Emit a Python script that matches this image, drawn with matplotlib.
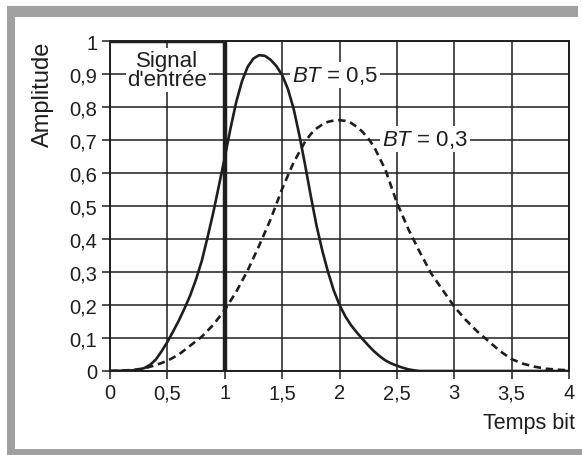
import matplotlib
import matplotlib.pyplot as plt
from matplotlib.patches import Rectangle

matplotlib.use("Agg")

plt.rcParams["font.family"] = ["Liberation Sans", "DejaVu Sans"]
plt.rcParams["mathtext.fontset"] = "custom"
plt.rcParams["mathtext.it"] = "Liberation Sans:italic"
plt.rcParams["mathtext.rm"] = "Liberation Sans"

# ---------------------------------------------------------------------------
# Data
# ---------------------------------------------------------------------------

# input rectangle pulse (one bit)
signal_x = [0, 1, 1]
signal_y = [1, 1, 0]

# filtered pulse, BT = 0.5 (solid)
bt05_x = [0.0, 0.2, 0.25, 0.3, 0.35, 0.4, 0.45, 0.5, 0.55, 0.6, 0.65, 0.7,
          0.75, 0.8, 0.85, 0.9, 0.95, 1.0, 1.05, 1.1, 1.15, 1.2, 1.25, 1.3,
          1.35, 1.4, 1.45, 1.5, 1.55, 1.6, 1.65, 1.7, 1.75, 1.8, 1.85, 1.9,
          1.95, 2.0, 2.05, 2.1, 2.15, 2.2, 2.25, 2.3, 2.35, 2.4, 2.45, 2.5,
          2.55, 2.6, 2.65, 2.7, 4.0]
bt05_y = [0.0, 0.002, 0.004, 0.009, 0.019, 0.035, 0.06, 0.088, 0.12, 0.153,
          0.19, 0.23, 0.278, 0.334, 0.405, 0.48, 0.563, 0.647, 0.735, 0.815,
          0.878, 0.922, 0.947, 0.957, 0.955, 0.943, 0.924, 0.897, 0.855,
          0.795, 0.715, 0.625, 0.53, 0.44, 0.365, 0.30, 0.244, 0.2, 0.166,
          0.139, 0.117, 0.097, 0.078, 0.06, 0.045, 0.032, 0.023, 0.016, 0.01,
          0.005, 0.002, 0.0, 0.0]

# filtered pulse, BT = 0.3 (dashed)
bt03_x = [0.0, 0.2, 0.3, 0.4, 0.5, 0.6, 0.7, 0.8, 0.9, 1.0, 1.1, 1.2, 1.3,
          1.4, 1.5, 1.6, 1.7, 1.75, 1.8, 1.85, 1.9, 1.95, 2.0, 2.05, 2.1,
          2.15, 2.2, 2.25, 2.3, 2.4, 2.5, 2.6, 2.7, 2.8, 2.9, 3.0, 3.1, 3.2,
          3.3, 3.4, 3.5, 3.6, 3.7, 3.8, 3.9, 4.0]
bt03_y = [0.0, 0.003, 0.008, 0.018, 0.031, 0.05, 0.077, 0.104, 0.14, 0.185,
          0.24, 0.305, 0.38, 0.46, 0.552, 0.632, 0.695, 0.718, 0.735, 0.747,
          0.755, 0.759, 0.76, 0.758, 0.752, 0.74, 0.725, 0.705, 0.68, 0.61,
          0.51, 0.43, 0.36, 0.295, 0.245, 0.195, 0.155, 0.12, 0.09, 0.06,
          0.036, 0.022, 0.013, 0.007, 0.004, 0.002]

x_ticks = [0, 0.5, 1, 1.5, 2, 2.5, 3, 3.5, 4]
x_labels = ["0", "0,5", "1", "1,5", "2", "2,5", "3", "3,5", "4"]
y_ticks = [0, 0.1, 0.2, 0.3, 0.4, 0.5, 0.6, 0.7, 0.8, 0.9, 1]
y_labels = ["0", "0,1", "0,2", "0,3", "0,4", "0,5", "0,6", "0,7", "0,8", "0,9", "1"]

INK = "#1e1e1e"
FRAME = "#a0a0a0"
W, H = 582, 456

# ---------------------------------------------------------------------------
# Figure
# ---------------------------------------------------------------------------

fig = plt.figure(figsize=(W / 100, H / 100), dpi=100)
fig.patch.set_facecolor("white")


def px_rect(x0, y0, x1, y1):
    """Figure rectangle from pixel coords (origin top-left)."""
    return Rectangle((x0 / W, 1 - y1 / H), (x1 - x0) / W, (y1 - y0) / H,
                     transform=fig.transFigure, facecolor=FRAME,
                     edgecolor="none", zorder=0)


# grey frame round the picture (right side is cut off)
fig.patches.append(px_rect(7, 7, 15, 456))
fig.patches.append(px_rect(7, 7, 578, 18))
fig.patches.append(px_rect(7, 450, 582, 456))

ax = fig.add_axes([110 / W, 1 - 372 / H, (569 - 110) / W, (372 - 42) / H])
ax.set_xlim(0, 4)
ax.set_ylim(0, 1)

ax.set_xticks(x_ticks)
ax.set_xticklabels(x_labels)
ax.set_yticks(y_ticks)
ax.set_yticklabels(y_labels)
ax.tick_params(axis="both", direction="out", length=6, width=1.1,
               color=INK, labelcolor=INK, labelsize=14.5)
ax.tick_params(axis="x", pad=3)
ax.tick_params(axis="y", pad=3)
ax.grid(True, color=INK, linewidth=1.1)
ax.set_axisbelow(True)
for side in ax.spines.values():
    side.set_color(INK)
    side.set_linewidth(1.4)

ax.plot(bt05_x, bt05_y, color=INK, linewidth=1.9, zorder=3)
ax.plot(bt03_x, bt03_y, color=INK, linewidth=1.9, dashes=(2.8, 1.8), zorder=3)
ax.plot(signal_x, signal_y, color=INK, linewidth=3.2,
        solid_joinstyle="miter", zorder=4)

box = dict(facecolor="white", edgecolor="none", pad=1.5)
ax.text(0.5, 0.912, "Signal\nd'entrée", ha="center", va="center",
        fontsize=16, color=INK, linespacing=0.85, bbox=box, zorder=5)
ax.text(1.59, 0.897, r"$BT$ = 0,5", ha="left", va="center",
        fontsize=16, color=INK, bbox=box, zorder=5)
ax.text(2.37, 0.703, r"$BT$ = 0,3", ha="left", va="center",
        fontsize=16, color=INK, bbox=box, zorder=5)

fig.text(43 / W, 1 - 42 / H, "Amplitude", rotation=90, ha="center",
         va="top", fontsize=17, color=INK)
fig.text(575 / W, 1 - 424 / H, "Temps bit", ha="right", va="center",
         fontsize=15.5, color=INK)

fig.savefig("out.png", dpi=100)
plt.close(fig)
